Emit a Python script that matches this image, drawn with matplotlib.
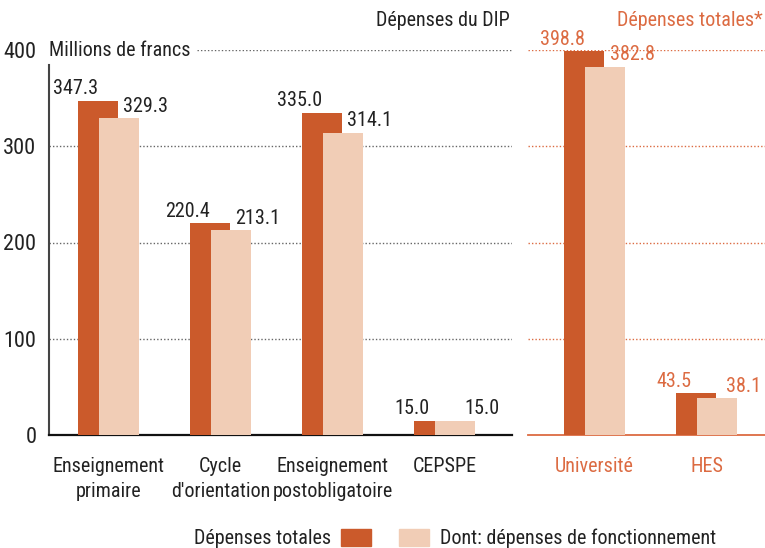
import matplotlib.pyplot as plt
from matplotlib.patches import Rectangle

plt.rcParams['font.family'] = ['Roboto Condensed', 'Roboto', 'DejaVu Sans']
plt.rcParams['font.size'] = 14.5

DARK = '#cb5a2b'
LIGHT = '#f1cdb6'
ORANGE = '#dc6b42'
TEXT = '#222222'

left_cats = ['Enseignement\nprimaire', "Cycle\nd'orientation", 'Enseignement\npostobligatoire', 'CEPSPE']
left_total = [347.3, 220.4, 335.0, 15.0]
left_fonct = [329.3, 213.1, 314.1, 15.0]

right_cats = ['Université', 'HES']
right_total = [398.8, 43.5]
right_fonct = [382.8, 38.1]

y_ticks = [0, 100, 200, 300, 400]


def draw_panel(ax, cats, total, fonct, grid_color, text_color):
    x = list(range(len(cats)))
    w = 0.36
    off = 0.0915
    ax.bar([i - off for i in x], total, width=w, color=DARK, zorder=3)
    ax.bar([i + off for i in x], fonct, width=w, color=LIGHT, zorder=4)
    for i in x:
        ax.annotate('%.1f' % total[i], (i - 0.29, total[i]), xytext=(0, 4.5),
                    textcoords='offset points', ha='center', va='baseline', color=text_color)
        ax.annotate('%.1f' % fonct[i], (i + 0.335, fonct[i]), xytext=(0, 4.5),
                    textcoords='offset points', ha='center', va='baseline', color=text_color)
    ax.set_ylim(0, 400)
    ax.set_xticks(x)
    ax.set_xticklabels(cats, color=text_color, linespacing=1.36)
    ax.tick_params(axis='x', length=0, pad=16)
    for s in ['top', 'right']:
        ax.spines[s].set_visible(False)
    ax.spines['bottom'].set_linewidth(1.6)
    for y in y_ticks[1:]:
        ax.axhline(y, color=grid_color, lw=1, ls=(0, (1, 1.5)), zorder=1)


fig = plt.figure(figsize=(7.65, 5.48), dpi=100)
ax1 = fig.add_axes([49 / 765, 113 / 548, 463 / 765, 385 / 548])
ax2 = fig.add_axes([528 / 765, 113 / 548, 237 / 765, 385 / 548])

draw_panel(ax1, left_cats, left_total, left_fonct, '#666666', TEXT)
ax1.set_xlim(-0.531, 3.603)
ax1.spines['bottom'].set_color('#111111')
ax1.spines['left'].set_bounds(0, 384)
ax1.spines['left'].set_linewidth(1.5)
ax1.spines['left'].set_color('#444444')
ax1.set_yticks(y_ticks)
ax1.set_yticklabels([str(v) for v in y_ticks], color=TEXT, fontsize=16)
ax1.tick_params(axis='y', length=0, pad=9)
# the 400 line starts after the unit label
ax1.lines[-1].set_xdata([0.32, 1])
ax1.text(0, 400, 'Millions de francs', ha='left', va='center', color=TEXT,
         transform=ax1.get_yaxis_transform(), zorder=5)

draw_panel(ax2, right_cats, right_total, right_fonct, ORANGE, ORANGE)
ax2.set_xlim(-0.594, 1.522)
ax2.spines['bottom'].set_color(ORANGE)
ax2.spines['bottom'].set_linewidth(1.3)
ax2.spines['left'].set_visible(False)
ax2.set_yticks([])

fig.text(510 / 765, 1 - 20 / 548, 'Dépenses du DIP', ha='right', va='center', color=TEXT)
fig.text(763 / 765, 1 - 20 / 548, 'Dépenses totales*', ha='right', va='center', color=ORANGE)

# legend
fig.text(331 / 765, 1 - 538 / 548, 'Dépenses totales', ha='right', va='center', color=TEXT)
fig.patches.append(Rectangle((341 / 765, 1 - 546 / 548), 30 / 765, 17 / 548,
                             transform=fig.transFigure, color=DARK))
fig.patches.append(Rectangle((399 / 765, 1 - 546 / 548), 30 / 765, 17 / 548,
                             transform=fig.transFigure, color=LIGHT))
fig.text(440 / 765, 1 - 538 / 548, 'Dont: dépenses de fonctionnement', ha='left', va='center', color=TEXT)

fig.savefig('out.png', dpi=100)
